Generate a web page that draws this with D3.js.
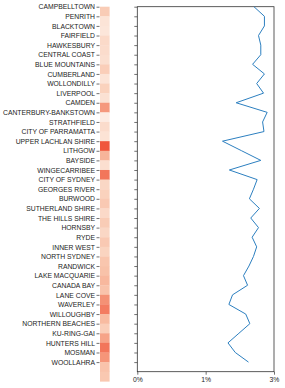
<!DOCTYPE html>
<html>
<head>
<meta charset="utf-8">
<script src="https://cdn.jsdelivr.net/npm/d3@7"></script>
<style>
  body { margin: 0; background: #fff; }
  svg { display: block; font-family: "DejaVu Sans", sans-serif; }
  .axis text { fill: #222; }
</style>
</head>
<body>
<div id="chart"></div>
<script>
const categories = [
  'CAMPBELLTOWN', 'PENRITH', 'BLACKTOWN', 'FAIRFIELD', 'HAWKESBURY',
  'CENTRAL COAST', 'BLUE MOUNTAINS', 'CUMBERLAND', 'WOLLONDILLY', 'LIVERPOOL',
  'CAMDEN', 'CANTERBURY-BANKSTOWN', 'STRATHFIELD', 'CITY OF PARRAMATTA',
  'UPPER LACHLAN SHIRE', 'LITHGOW', 'BAYSIDE', 'WINGECARRIBEE', 'CITY OF SYDNEY',
  'GEORGES RIVER', 'BURWOOD', 'SUTHERLAND SHIRE', 'THE HILLS SHIRE', 'HORNSBY',
  'RYDE', 'INNER WEST', 'NORTH SYDNEY', 'RANDWICK', 'LAKE MACQUARIE',
  'CANADA BAY', 'LANE COVE', 'WAVERLEY', 'WILLOUGHBY', 'NORTHERN BEACHES',
  'KU-RING-GAI', 'HUNTERS HILL', 'MOSMAN', 'WOOLLAHRA'
]

// heat strip intensity (0 light .. 1 dark), one more cell than labels
const heatValues = [
  0.35, 0.12, 0.10, 0.22, 0.20, 0.17, 0.33, 0.12, 0.30, 0.15,
  0.68, 0.03, 0.20, 0.13, 1.00, 0.52, 0.17, 0.85, 0.25, 0.30,
  0.37, 0.23, 0.35, 0.25, 0.37, 0.28, 0.40, 0.43, 0.50, 0.42,
  0.72, 0.82, 0.48, 0.33, 0.62, 0.85, 0.70, 0.42, 0.38
]

const rates = [
  0.0256, 0.0279, 0.0279, 0.0266, 0.0271, 0.0271, 0.0253, 0.0279, 0.0262, 0.0277,
  0.0217, 0.0285, 0.0275, 0.0278, 0.0187, 0.0229, 0.0271, 0.0202, 0.0263, 0.0255,
  0.0246, 0.0268, 0.0249, 0.0266, 0.0252, 0.0262, 0.0255, 0.0245, 0.0233, 0.0242,
  0.0209, 0.0201, 0.0238, 0.0247, 0.0223, 0.0199, 0.0215, 0.0244
]

const xTickValues = [0, 0.015, 0.03]
const xTickLabels = ['0%', '1%', '3%']

const width = 285
const height = 388
const plotTop = 6.7
const plotBottom = 371.7

const svg = d3.select('#chart').append('svg')
  .attr('width', width)
  .attr('height', height)

// heat strip
const heatX = [100, 109.6]
const heatY = d3.scaleBand()
  .domain(d3.range(heatValues.length))
  .range([plotTop, plotTop + heatValues.length * (plotBottom - plotTop) / categories.length])

const color = d3.scaleSequential(d3.interpolateRgbBasis(['#fdefe7', '#f8c2a4', '#f0563c']))
  .domain([0, 1])

svg.append('g')
  .selectAll('rect')
  .data(heatValues)
  .join('rect')
    .attr('x', heatX[0])
    .attr('y', (d, i) => heatY(i))
    .attr('width', heatX[1] - heatX[0])
    .attr('height', heatY.bandwidth() + 0.3)
    .attr('fill', d => color(d))

// shared row positions for labels and line
const y = d3.scaleLinear()
  .domain([0, categories.length])
  .range([plotTop, plotBottom])

const labelAxis = d3.axisLeft(y)
  .tickValues(d3.range(categories.length))
  .tickFormat(i => categories[i])
  .tickSize(3)
  .tickPadding(1.5)

svg.append('g')
  .classed('axis', true)
  .attr('transform', `translate(${heatX[0] - 0.5},0)`)
  .call(labelAxis)
  .call(g => g.select('.domain').remove())
  .call(g => g.selectAll('text').style('font-size', '6.8px'))
  .call(g => g.selectAll('line').attr('stroke', '#333').attr('stroke-width', 0.7))

// line plot
const x = d3.scaleLinear()
  .domain([0, 0.03])
  .range([137.3, 274])

const plot = svg.append('g')

plot.append('g')
  .classed('axis', true)
  .attr('transform', `translate(${x.range()[0]},0)`)
  .call(d3.axisLeft(y).tickValues(d3.range(categories.length)).tickSize(3).tickFormat(''))
  .call(g => g.select('.domain').remove())
  .call(g => g.selectAll('line').attr('stroke', '#333').attr('stroke-width', 0.7))

plot.append('g')
  .classed('axis', true)
  .attr('transform', `translate(0,${plotBottom})`)
  .call(d3.axisBottom(x)
    .tickValues(xTickValues)
    .tickFormat((d, i) => xTickLabels[i])
    .tickSize(3)
    .tickPadding(2))
  .call(g => g.select('.domain').remove())
  .call(g => g.selectAll('text').style('font-size', '6.8px'))
  .call(g => g.selectAll('line').attr('stroke', '#333').attr('stroke-width', 0.7))

plot.append('rect')
  .attr('x', x.range()[0])
  .attr('y', plotTop)
  .attr('width', x.range()[1] - x.range()[0])
  .attr('height', plotBottom - plotTop)
  .attr('fill', 'none')
  .attr('stroke', '#333')
  .attr('stroke-width', 0.8)

const line = d3.line()
  .x(d => x(d))
  .y((d, i) => y(i))

plot.append('path')
  .datum(rates)
  .attr('fill', 'none')
  .attr('stroke', '#2c7fc0')
  .attr('stroke-width', 1)
  .attr('d', line)
</script>
</body>
</html>
